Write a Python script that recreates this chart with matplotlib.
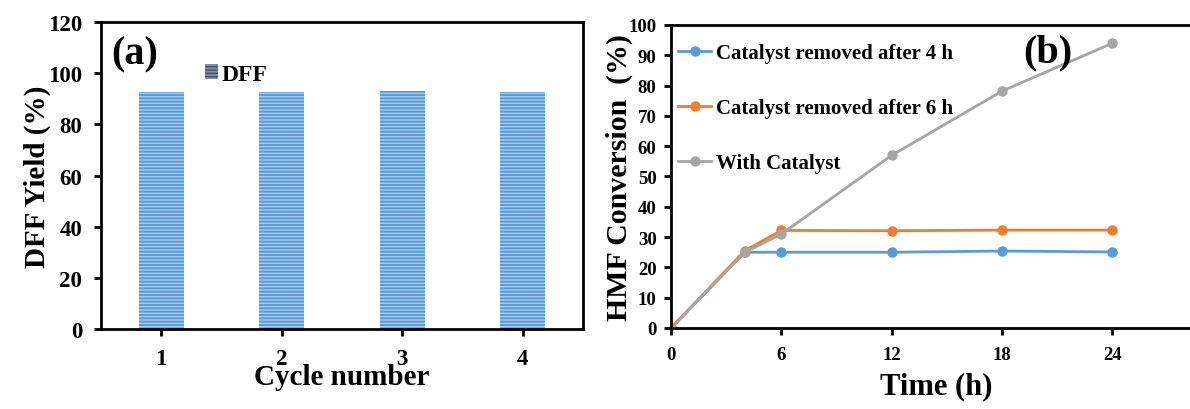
import matplotlib
matplotlib.use('Agg')
import matplotlib.pyplot as plt
from matplotlib.patches import Patch

plt.rcParams['font.family'] = ['Liberation Serif', 'DejaVu Serif']
plt.rcParams['font.weight'] = 'bold'
plt.rcParams['hatch.linewidth'] = 1.4

# (a) recycling data
cycles = ['1', '2', '3', '4']
dff_yield = [92.8, 92.7, 93.2, 92.6]

# (b) leaching test data
time_h = [0, 4, 6, 12, 18, 24]
removed_4h = [0, 25.0, 25.0, 25.0, 25.4, 25.1]
removed_6h = [0, 25.5, 32.2, 32.1, 32.3, 32.3]
with_cat = [0, 25.0, 31.0, 57.0, 78.2, 94.0]

fig = plt.figure(figsize=(11.9, 4.1), dpi=100)

##### panel (a) #####
ax1 = fig.add_axes([0.0849, 0.195, 0.405, 0.749])
x = range(len(cycles))
ax1.bar(x, dff_yield, width=0.37, color='#a8cbec', edgecolor='#5b9bd5',
        linewidth=0, hatch='-----')
ax1.set_xlim(-0.5, 3.5)
ax1.set_ylim(0, 120)
ax1.set_xticks(list(x))
ax1.set_xticklabels(cycles)
ax1.set_yticks(range(0, 121, 20))
ax1.tick_params(labelsize=16.5, width=2, length=5, direction='out')
ax1.tick_params(axis='x', pad=9)
ax1.tick_params(axis='y', pad=8.5)
for s in ax1.spines.values():
    s.set_linewidth(2)
ax1.set_ylabel('DFF Yield (%)', fontsize=21, fontweight='bold', labelpad=-2)
ax1.set_xlabel('Cycle number', fontsize=21, fontweight='bold', labelpad=-5)
ax1.text(0.07, 0.895, '(a)', transform=ax1.transAxes, fontsize=29,
         fontweight='bold', ha='center', va='center')
h = Patch(facecolor='#46506c', edgecolor='#7d8fb0', hatch='-----', linewidth=0)
ax1.legend([h], ['DFF'], loc='upper left', bbox_to_anchor=(0.216, 0.864),
           frameon=False, fontsize=17, handlelength=0.55, handleheight=0.6,
           handletextpad=0.15, borderpad=0, borderaxespad=0)

##### panel (b) #####
ax2 = fig.add_axes([0.564, 0.1976, 0.445, 0.739])
ax2.plot(time_h, removed_4h, color='#5b9bd5', marker='o', markersize=6.5,
         linewidth=2, label='Catalyst removed after 4 h')
ax2.plot(time_h, removed_6h, color='#ed7d31', marker='o', markersize=6.5,
         linewidth=2, label='Catalyst removed after 6 h')
ax2.plot(time_h, with_cat, color='#a5a5a5', marker='o', markersize=6.5,
         linewidth=2, label='With Catalyst')
ax2.set_xlim(0, 28.8)
ax2.set_ylim(0, 100)
ax2.set_xticks([0, 6, 12, 18, 24])
ax2.set_yticks(range(0, 101, 10))
ax2.tick_params(labelsize=13.5, width=2, length=5, direction='out')
ax2.tick_params(axis='x', pad=8)
ax2.tick_params(axis='y', pad=5.5)
ax2.spines['right'].set_visible(False)
for s in ax2.spines.values():
    s.set_linewidth(2)
ax2.set_ylabel('HMF Conversion  (%)', fontsize=21.5, fontweight='bold', labelpad=-3)
ax2.set_xlabel('Time (h)', fontsize=22, fontweight='bold', labelpad=6)
ax2.text(0.711, 0.91, '(b)', transform=ax2.transAxes, fontsize=29,
         fontweight='bold', ha='center', va='center')
ax2.legend(loc='upper left', bbox_to_anchor=(0.013, 0.94), frameon=False,
           fontsize=15, handlelength=1.6, handletextpad=0.2, labelspacing=1.68,
           borderpad=0, borderaxespad=0)

fig.savefig('out.png', dpi=100)
